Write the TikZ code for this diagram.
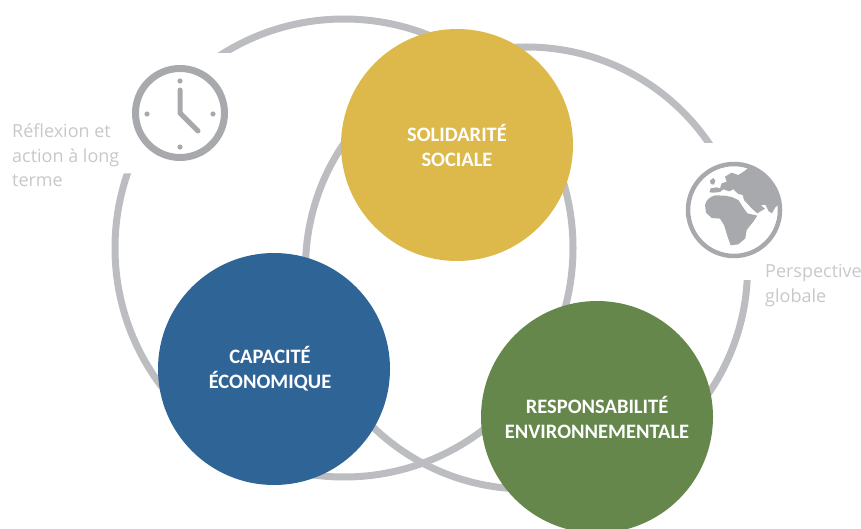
\documentclass[tikz,border=0pt]{standalone}
\usepackage{fontspec}
\setmainfont{Carlito}
\newfontfamily\labelfont{Open Sans}
\definecolor{ringgray}{HTML}{BCBDC1}
\definecolor{icongray}{HTML}{A7A9AC}
\definecolor{labelgray}{HTML}{C6C8CA}
\definecolor{gold}{HTML}{DDB94B}
\definecolor{bluec}{HTML}{2F6497}
\definecolor{greenc}{HTML}{65874B}
\tikzset{
  ring/.style={draw=ringgray,line width=7pt},
  pillar/.style={circle,minimum size=232pt,inner sep=0pt,text=white,align=center,font=\bfseries\fontsize{20.5}{25}\selectfont},
  sidelabel/.style={text=labelgray,align=left,anchor=west,inner sep=0pt,font=\labelfont\fontsize{18}{24.5}\selectfont},
  iconline/.style={draw=icongray,line cap=round,line join=round},
  iconfill/.style={fill=icongray,draw=none}
}
\begin{document}
\begin{tikzpicture}[x=1pt,y=-1pt]
\useasboundingbox (0,0) rectangle (861,529);
\clip (0,0) rectangle (861,529);
% rings, with the two gaps cut out
\begin{scope}[even odd rule]
\clip (0,0) rectangle (861,529) (100,53) rectangle (240,173.5) (690,143) rectangle (770,280);
\draw[ring] (344,248) circle[radius=229];
\draw[ring] (526.5,268) circle[radius=221];
\end{scope}
% pillars
\node[pillar,fill=gold] (sol) at (457,145) {SOLIDARITÉ\\SOCIALE};
\node[pillar,fill=bluec] (eco) at (274,369) {CAPACITÉ\hspace*{8pt}\\ÉCONOMIQUE\hspace*{8pt}};
\node[pillar,fill=greenc] (env) at (597,417) {RESPONSABILITÉ\\ENVIRONNEMENTALE};
% labels
\node[sidelabel] (lt) at (12,155.5) {Réflexion et\\action à long\\terme};
\node[sidelabel] (pg) at (765,285.5) {Perspective\\globale};
% clock
\draw[iconline,line width=7pt] (180,113) circle[radius=44.5];
\draw[iconline,line width=5pt] (180,90) -- (180,113) -- (198,131);
\foreach \px/\py in {180/81,180/147,147/114,213/114}
  \fill[icongray] (\px,\py) circle[radius=2.6];
% globe
\draw[iconline,line width=4.5pt] (734,210) circle[radius=46];
\begin{scope}[shift={(670,150)},x=0.3333pt,y=-0.3333pt]
\clip (192,180) circle[radius=134];
\fill[icongray] (118,127) -- (122,115) -- (140,112) -- (150,115) -- (155,100) -- (170,95) -- (165,80) -- (185,68) -- (205,75) -- (225,62) -- (260,30) -- (345,60) -- (345,170)
  -- (328,162) -- (316,172) -- (306,190) -- (296,184) -- (286,164) -- (272,166) -- (285,176) -- (262,190) -- (246,176) -- (222,150) -- (218,135) -- (205,132) -- (190,118) -- (178,124) -- (160,118) -- (150,126) -- (132,128) -- cycle;
\fill[icongray] (120,92) -- (130,84) -- (136,92) -- (132,104) -- (122,102) -- cycle;
\fill[icongray] (105,165) .. controls (108,150) and (120,140) .. (135,136) -- (165,137) -- (185,141) -- (205,150) -- (218,170) -- (232,190) -- (262,197) -- (250,215) -- (230,240) -- (226,265) -- (205,283) -- (182,286) -- (172,258) -- (162,225) -- (150,206) -- (125,204) -- (108,188) -- cycle;
\end{scope}
\end{tikzpicture}
\end{document}
